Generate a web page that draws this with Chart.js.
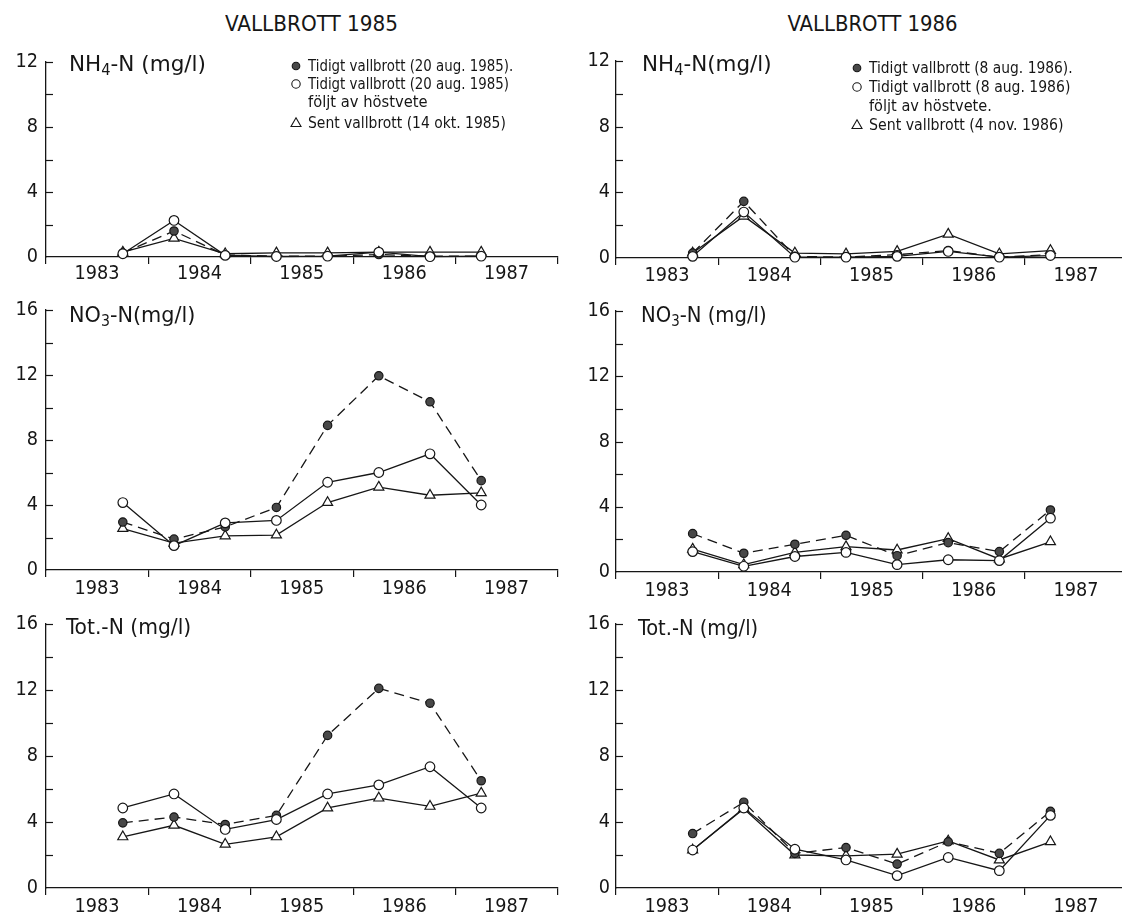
<!DOCTYPE html>
<html><head><meta charset="utf-8">
<script src="https://cdn.jsdelivr.net/npm/chart.js@4.4.1/dist/chart.umd.min.js"></script>
<style>
html,body{margin:0;padding:0;background:#fff}
body{width:1122px;height:918px;position:relative;overflow:hidden;font-family:'DejaVu Sans Condensed','Liberation Sans Narrow','DejaVu Sans',sans-serif;color:#161616}
canvas{position:absolute}
.txt{position:absolute;white-space:nowrap;line-height:1;transform-origin:0 50%}
.txt sub{font-size:68%;vertical-align:-0.28em;line-height:0}
.mk{position:absolute}
</style></head><body>
<script>
// ---------- data ----------
const sampleDates = [1983.75, 1984.25, 1984.75, 1985.25, 1985.75, 1986.25, 1986.75, 1987.25];
const yearTicks = [1983, 1984, 1985, 1986, 1987, 1988];
const yearLabels = ['1983', '1984', '1985', '1986', '1987'];
const yTicksNH4 = [0, 4, 8, 12];
const yTicksN = [0, 4, 8, 12, 16];

const columnTitles = ['VALLBROTT 1985', 'VALLBROTT 1986'];
const legend1985 = ['Tidigt vallbrott (20 aug. 1985).', 'Tidigt vallbrott (20 aug. 1985)', 'följt av höstvete', 'Sent vallbrott (14 okt. 1985)'];
const legend1986 = ['Tidigt vallbrott (8 aug. 1986).', 'Tidigt vallbrott (8 aug. 1986)', 'följt av höstvete.', 'Sent vallbrott (4 nov. 1986)'];
const panelTitles = ['NH<sub>4</sub>-N (mg/l)', 'NH<sub>4</sub>-N(mg/l)', 'NO<sub>3</sub>-N(mg/l)', 'NO<sub>3</sub>-N (mg/l)', 'Tot.-N (mg/l)', 'Tot.-N (mg/l)'];

// NH4-N
const nh4_1985_early = [0.25, 1.6, 0.12, 0.05, 0.05, 0.15, 0.05, 0.05];
const nh4_1985_wheat = [0.2, 2.25, 0.1, 0.03, 0.05, 0.3, 0.02, 0.05];
const nh4_1985_late  = [0.3, 1.15, 0.2, 0.25, 0.25, 0.3, 0.3, 0.3];
const nh4_1986_early = [0.3, 3.45, 0.1, 0.05, 0.2, 0.45, 0.05, 0.2];
const nh4_1986_wheat = [0.1, 2.8, 0.05, 0.05, 0.1, 0.4, 0.05, 0.15];
const nh4_1986_late  = [0.3, 2.55, 0.3, 0.25, 0.4, 1.45, 0.25, 0.45];
// NO3-N
const no3_1985_early = [2.95, 1.9, 2.65, 3.85, 8.9, 11.95, 10.35, 5.5];
const no3_1985_wheat = [4.15, 1.5, 2.9, 3.05, 5.4, 6.0, 7.15, 4.0];
const no3_1985_late  = [2.55, 1.65, 2.1, 2.15, 4.15, 5.1, 4.6, 4.75];
const no3_1986_early = [2.35, 1.15, 1.7, 2.25, 1.0, 1.8, 1.25, 3.8];
const no3_1986_wheat = [1.25, 0.35, 0.95, 1.2, 0.45, 0.75, 0.7, 3.3];
const no3_1986_late  = [1.4, 0.45, 1.2, 1.55, 1.35, 2.05, 0.8, 1.85];
// Tot-N
const totn_1985_early = [3.95, 4.3, 3.85, 4.4, 9.25, 12.1, 11.2, 6.5];
const totn_1985_wheat = [4.85, 5.7, 3.55, 4.15, 5.7, 6.25, 7.35, 4.85];
const totn_1985_late  = [3.1, 3.8, 2.65, 3.1, 4.85, 5.45, 4.95, 5.75];
const totn_1986_early = [3.3, 5.2, 2.1, 2.45, 1.45, 2.8, 2.1, 4.65];
const totn_1986_wheat = [2.3, 4.85, 2.35, 1.7, 0.75, 1.85, 1.05, 4.4];
const totn_1986_late  = [2.3, 4.8, 2.0, 1.95, 2.05, 2.85, 1.7, 2.8];

const panelSeries = [
  [nh4_1985_early, nh4_1985_wheat, nh4_1985_late],
  [nh4_1986_early, nh4_1986_wheat, nh4_1986_late],
  [no3_1985_early, no3_1985_wheat, no3_1985_late],
  [no3_1986_early, no3_1986_wheat, no3_1986_late],
  [totn_1985_early, totn_1985_wheat, totn_1985_late],
  [totn_1986_early, totn_1986_wheat, totn_1986_late]
];
const panelYTicks = [yTicksNH4, yTicksNH4, yTicksN, yTicksN, yTicksN, yTicksN];

// ---------- layout ----------
const INK = '#161616';
const layouts = [
  {cl:0,   cw:560, pl:46,  pr:558,  pt:62,  pb:257, xMax:1988,    lp:-2, yp:8, tx:69,  ty:64,  tw:137},
  {cl:560, cw:562, pl:616, pr:1122, pt:61,  pb:258, xMax:1987.95, lp:-1, yp:6, tx:642, ty:64,  tw:130},
  {cl:0,   cw:560, pl:46,  pr:558,  pt:310, pb:570, xMax:1988,    lp:0,  yp:8, tx:69,  ty:315, tw:126},
  {cl:560, cw:562, pl:616, pr:1122, pt:311, pb:572, xMax:1987.95, lp:0,  yp:6, tx:641, ty:315, tw:126},
  {cl:0,   cw:560, pl:46,  pr:558,  pt:624, pb:888, xMax:1988,    lp:0,  yp:8, tx:66,  ty:627, tw:125},
  {cl:560, cw:562, pl:616, pr:1122, pt:624, pb:888, xMax:1987.95, lp:0,  yp:6, tx:638, ty:628, tw:120}
];
const FAM = "'DejaVu Sans Condensed','Liberation Sans Narrow','DejaVu Sans',sans-serif";

// size tick font so that "1983" is ~44px wide
const mctx = document.createElement('canvas').getContext('2d');
mctx.font = '21px ' + FAM;
const w21 = mctx.measureText('1983').width;
const TICK_FS = Math.min(22, Math.max(17, 21 * 45 / w21));

const innerTicks = {
  id: 'innerTicks',
  afterDraw(chart) {
    const {ctx, chartArea, scales: {y}} = chart;
    ctx.save();
    ctx.strokeStyle = INK; ctx.lineWidth = 1.2;
    for (let v = 2; v <= y.max + 1e-9; v += 2) {
      const py = Math.round(y.getPixelForValue(v)) + 0.5;
      ctx.beginPath(); ctx.moveTo(chartArea.left, py); ctx.lineTo(chartArea.left + 7, py); ctx.stroke();
    }
    ctx.restore();
  }
};

const styles = [
  {borderDash:[10,6], pointStyle:'circle', pointRadius:4.2, pointBackgroundColor:'#484848'},
  {borderDash:[], pointStyle:'circle', pointRadius:4.8, pointBackgroundColor:'#ffffff'},
  {borderDash:[], pointStyle:'triangle', pointRadius:5.8, pointBackgroundColor:'#ffffff'}
];
const drawOrder = [1, 0, 2];

function makeChart(i) {
  const L = layouts[i];
  const cv = document.createElement('canvas');
  const top = L.pt - 24;
  const h = (L.pb - L.pt) + 24 + 32;
  cv.width = L.cw; cv.height = h;
  cv.style.left = L.cl + 'px'; cv.style.top = top + 'px';
  cv.style.width = L.cw + 'px'; cv.style.height = h + 'px';
  document.body.appendChild(cv);
  const datasets = drawOrder.map(k => Object.assign({
    label: (i % 2 ? legend1986 : legend1985)[k === 2 ? 3 : k],
    data: sampleDates.map((x, j) => ({x: x, y: panelSeries[i][k][j]})),
    borderColor: INK, borderWidth: 1.3, pointBorderColor: INK, pointBorderWidth: 1.2,
    fill: false, tension: 0, clip: false
  }, styles[k]));
  new Chart(cv, {
    type: 'line',
    data: {datasets},
    options: {
      responsive: false, animation: false, devicePixelRatio: 1,
      layout: {padding: {top: 24, left: 0, bottom: 0, right: L.cl + L.cw - L.pr}, autoPadding: false},
      plugins: {legend: {display: false}, tooltip: {enabled: false}},
      scales: {
        x: {
          type: 'linear', min: 1983, max: L.xMax,
          afterBuildTicks: s => { s.ticks = yearTicks.filter(v => v <= L.xMax + 1e-9).map(v => ({value: v})); },
          afterFit: s => { s.height = 32; },
          ticks: {callback: (v, idx) => (yearLabels[idx] !== undefined ? yearLabels[idx] : ''), labelOffset: 51,
                  padding: L.lp, autoSkip: false, maxRotation: 0, color: INK, font: {family: FAM, size: TICK_FS}},
          grid: {display: true, drawOnChartArea: false, drawTicks: true, tickLength: 7, color: INK, lineWidth: 1.2},
          border: {display: true, color: INK, width: 1.3}
        },
        y: {
          type: 'linear', min: 0, max: panelYTicks[i][panelYTicks[i].length - 1],
          afterBuildTicks: s => { s.ticks = panelYTicks[i].map(v => ({value: v})); },
          afterFit: s => { s.width = L.pl - L.cl; },
          ticks: {padding: L.yp, color: INK, font: {family: FAM, size: TICK_FS}},
          grid: {display: true, drawOnChartArea: false, drawTicks: false, color: INK},
          border: {display: true, color: INK, width: 1.3}
        }
      }
    },
    plugins: [innerTicks]
  });
}

function addText(html, x, cy, fs, targetW, center) {
  const d = document.createElement('div');
  d.className = 'txt'; d.innerHTML = html; d.style.fontSize = fs + 'px';
  document.body.appendChild(d);
  const w = d.offsetWidth;
  d.style.top = (cy - 0.5 * fs) + 'px';
  if (center) { d.style.left = (x - w / 2) + 'px'; d.style.transformOrigin = '50% 50%'; }
  else d.style.left = x + 'px';
  d.style.transform = 'scaleX(' + (targetW / w) + ')';
}

function addMarker(type, cx, cy) {
  const ns = 'http://www.w3.org/2000/svg';
  const s = document.createElementNS(ns, 'svg');
  s.setAttribute('width', 14); s.setAttribute('height', 14);
  s.setAttribute('class', 'mk');
  s.style.left = (cx - 7) + 'px'; s.style.top = (cy - 7) + 'px';
  let e;
  if (type === 'tri') {
    e = document.createElementNS(ns, 'polygon');
    e.setAttribute('points', '7,1.8 12,10.5 2,10.5');
    e.setAttribute('fill', '#fff');
  } else {
    e = document.createElementNS(ns, 'circle');
    e.setAttribute('cx', 7); e.setAttribute('cy', 7); e.setAttribute('r', type === 'fill' ? 3.8 : 4.2);
    e.setAttribute('fill', type === 'fill' ? '#484848' : '#fff');
  }
  e.setAttribute('stroke', INK); e.setAttribute('stroke-width', 1.1);
  s.appendChild(e);
  document.body.appendChild(s);
}

for (let i = 0; i < 6; i++) makeChart(i);

// column titles
addText(columnTitles[0], 311.6, 24, 22, 173, true);
addText(columnTitles[1], 872.7, 24, 22, 170, true);
// panel titles
for (let i = 0; i < 6; i++) { const L = layouts[i]; addText(panelTitles[i], L.tx, L.ty, 22, L.tw, false); }

// legends
const legPos = [
  {mx:296, tx:308, ys:[66, 84, 102, 123], ws:[205, 201, 120, 198]},
  {mx:857, tx:869, ys:[68, 87, 106, 125], ws:[204, 201, 123, 195]}
];
[legend1985, legend1986].forEach((lg, c) => {
  const P = legPos[c];
  addMarker('fill', P.mx, P.ys[0]);
  addMarker('open', P.mx, P.ys[1]);
  addMarker('tri', P.mx, P.ys[3]);
  lg.forEach((t, k) => addText(t, P.tx, P.ys[k], 15, P.ws[k], false));
});
</script></body></html>
